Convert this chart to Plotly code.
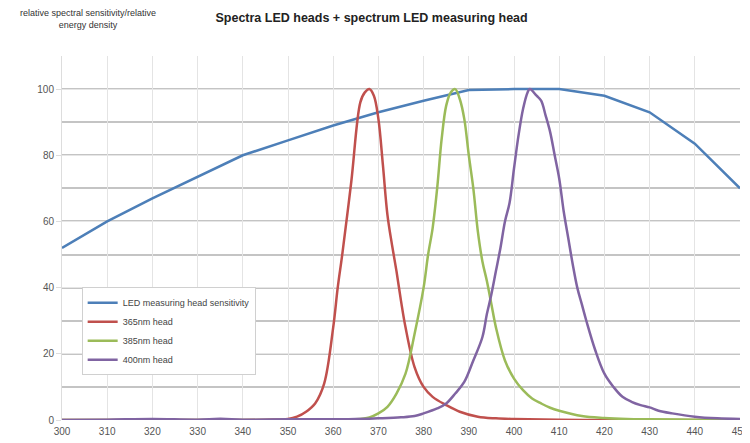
import plotly.graph_objects as go

# ---- data ----
sens_x = [300, 310, 320, 330, 340, 350, 360, 370, 380, 390, 400, 410, 420, 430, 440, 450]
sens_y = [52, 60, 67, 73.5, 80, 84.5, 89, 93, 96.5, 99.7, 100, 100, 98, 93, 83.5, 70]

h365_x = [300, 320, 340, 345, 350, 352, 354, 356, 358, 360, 361, 362, 364, 366, 367, 368,
          369, 370, 371, 372, 373, 374, 375, 376, 378, 380, 382, 385, 388, 392, 396, 400,
          410, 420, 430, 440, 450]
h365_y = [0, 0, 0, 0.1, 0.3, 1, 2.5, 5, 11, 28, 40, 50, 72, 96, 99, 100,
          98, 91, 77, 62, 53, 45, 36, 28, 16, 10, 7, 4.5, 2.5, 1, 0.5, 0.3,
          0.1, 0, 0, 0, 0]

h385_x = [300, 320, 340, 360, 365, 368, 370, 372, 374, 376, 378, 380, 381, 382, 383, 384,
          385, 386, 387, 388, 389, 390, 391, 392, 393, 394, 395, 396, 398, 400, 402, 404,
          406, 408, 410, 415, 420, 425, 430, 440, 450]
h385_y = [0, 0, 0, 0, 0.2, 0.8, 2, 4, 8, 14, 26, 40, 50, 58, 70, 85,
          95, 99, 100, 97, 91, 80, 70, 57, 48, 42, 35, 28, 18, 12.5, 9, 6.5,
          5, 3.7, 2.8, 1.2, 0.6, 0.3, 0.2, 0.1, 0]

h400_x = [300, 310, 320, 330, 335, 340, 350, 360, 365, 370, 375, 378, 380, 383, 385, 387,
          389, 391, 393, 394, 395, 396, 397, 398, 399, 400, 401, 402, 403, 403.5, 405, 406,
          407, 408, 409, 410, 411, 412, 413, 414, 415, 416, 418, 420, 422, 424, 426, 428,
          430, 432, 435, 440, 445, 450]
h400_y = [0, 0.1, 0.3, 0.1, 0.4, 0.1, 0.2, 0.2, 0.3, 0.5, 0.8, 1.2, 2, 3.5, 5, 8,
          11.5, 18, 25, 32, 38, 45, 52, 60, 65.5, 76, 86, 94, 99, 100, 98, 96.5,
          92, 87, 80, 73, 63, 55, 47, 40, 35, 30, 21, 14, 10, 7, 5.5, 4.5,
          3.8, 2.8, 2, 1, 0.5, 0.3]

names = ["LED measuring head sensitivity", "365nm head", "385nm head", "400nm head"]
colors = ["#4d7fb8", "#c0504d", "#9bbb59", "#8064a2"]
x_ticks = list(range(300, 451, 10))
y_ticks = [0, 20, 40, 60, 80, 100]

fig = go.Figure()
for xs, ys, nm, c in zip([sens_x, h365_x, h385_x, h400_x],
                         [sens_y, h365_y, h385_y, h400_y], names, colors):
    fig.add_trace(go.Scatter(x=xs, y=ys, mode="lines", name=nm,
                             line=dict(color=c, width=2.5,
                                       shape="linear" if nm == names[0] else "spline")))

# page body has an 8px margin, so the figure is sized/offset to compensate
fig.update_layout(
    width=742, height=435,
    margin=dict(l=54, r=10, t=48, b=23),
    paper_bgcolor="white", plot_bgcolor="white",
    font=dict(family="Liberation Sans, Arial, sans-serif", color="#555555", size=10),
    title=dict(text="<b>Spectra LED heads + spectrum LED measuring head</b>",
               x=0.49, xanchor="center", y=0.979, yanchor="middle",
               font=dict(size=12.5, color="#222222")),
    showlegend=True,
    legend=dict(x=0.029, y=0.365, xanchor="left", yanchor="top",
                bgcolor="white", bordercolor="#d0d0d0", borderwidth=1,
                font=dict(size=9, color="#444444"), tracegroupgap=0,
                itemwidth=30),
    xaxis=dict(range=[300, 450], tickvals=x_ticks, showgrid=True,
               gridcolor="#e4e4e4", gridwidth=1, zeroline=False,
               ticks="", tickfont=dict(size=10, color="#555555"),
               ticklabelstandoff=4, ticklabeloverflow="allow", automargin=False,
               showline=False),
    yaxis=dict(range=[0, 110], tickvals=y_ticks, showgrid=True,
               gridcolor="#e6e6e6", gridwidth=1, zeroline=False, automargin=False,
               ticks="outside", ticklen=5, tickcolor="#dddddd",
               tickfont=dict(size=10, color="#555555"),
               minor=dict(dtick=10, tick0=0, showgrid=True, gridcolor="#c4c4c4",
                          gridwidth=2, ticks=""),
               showline=True, linecolor="#dddddd", linewidth=1),
    annotations=[dict(text="relative spectral sensitivity/relative<br>energy density",
                      xref="paper", yref="paper", x=0.038, y=1.1016,
                      xanchor="center", yanchor="middle", showarrow=False,
                      font=dict(size=9, color="#333333"))],
)

fig.write_html("out.html")
